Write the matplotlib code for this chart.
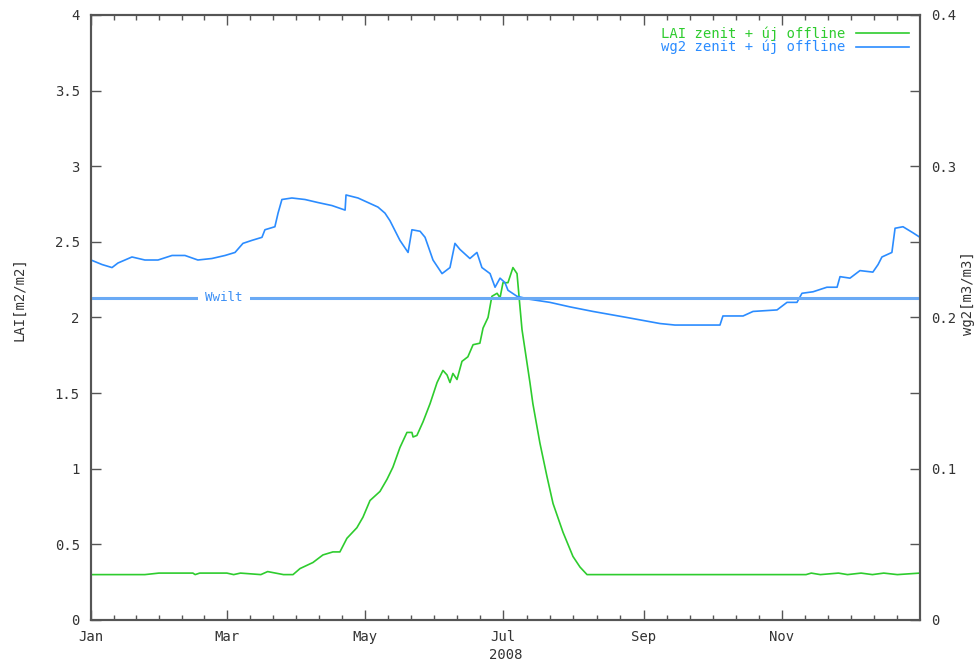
import numpy as np
import matplotlib.pyplot as plt

# day of year 2008 (0 = 1 Jan)
lai_day = [0, 23.8, 30, 45, 46, 48, 60, 63, 66, 75, 78, 85, 89.2, 92.3, 98.0, 102.4, 106.8,
           109.9, 113.0, 117.4, 120.1, 123.2, 127.6, 130.7, 133.3, 136.4, 139.5, 141.7,
           142.2, 143.9, 146.6, 149.7, 152.8, 155.4, 157.2, 158.5, 159.8, 161.6, 163.8,
           166.4, 168.7, 171.7, 173.1, 175.3, 177.0, 179.3, 180.6, 181.9, 184.1, 186.3,
           188.1, 189.4, 190.3, 191.6, 193.8, 195.1, 198.2, 201.3, 204.0, 208.4, 212.8,
           215.9, 219.0, 315.7, 318, 322, 330, 334, 340, 345, 350, 356, 366]
lai_val = [0.30, 0.30, 0.31, 0.31, 0.30, 0.31, 0.31, 0.30, 0.31, 0.30, 0.32, 0.30, 0.30,
           0.34, 0.38, 0.43, 0.45, 0.45, 0.54, 0.61, 0.68, 0.79, 0.85, 0.93, 1.01, 1.14,
           1.24, 1.24, 1.21, 1.22, 1.31, 1.43, 1.57, 1.65, 1.62, 1.57, 1.63, 1.59, 1.71,
           1.74, 1.82, 1.83, 1.93, 2.00, 2.14, 2.16, 2.13, 2.23, 2.23, 2.33, 2.29, 2.07,
           1.92, 1.79, 1.57, 1.43, 1.17, 0.95, 0.77, 0.58, 0.42, 0.35, 0.30, 0.30, 0.31,
           0.30, 0.31, 0.30, 0.31, 0.30, 0.31, 0.30, 0.31]

wg2_day = [0, 4.9, 9.3, 11.9, 18.1, 23.8, 29.6, 35.8, 41.5, 47.2, 53.4, 59.2, 63.6, 67.1,
           71.1, 75.5, 76.8, 81.2, 82.6, 84.3, 88.7, 94.5, 100.2, 106.4, 112.2, 112.6,
           117.9, 122.3, 126.7, 129.8, 132.0, 136.4, 140.0, 141.7, 145.3, 147.5, 151.0,
           155.0, 158.5, 160.7, 162.9, 167.3, 170.4, 172.6, 176.2, 178.4, 180.6, 182.8,
           184.1, 188.1, 193.8, 202.6, 211.5, 221.6, 236.6, 251.2, 257.8, 277.7, 279.0,
           287.9, 292.3, 302.9, 307.3, 311.7, 313.9, 318.8, 324.9, 329.4, 330.7, 335.1,
           339.5, 345.2, 347.5, 349.2, 353.6, 355.0, 358.5, 362.9, 366]
wg2_val = [0.238, 0.235, 0.233, 0.236, 0.240, 0.238, 0.238, 0.241, 0.241, 0.238, 0.239,
           0.241, 0.243, 0.249, 0.251, 0.253, 0.258, 0.260, 0.269, 0.278, 0.279, 0.278,
           0.276, 0.274, 0.271, 0.281, 0.279, 0.276, 0.273, 0.269, 0.264, 0.251, 0.243,
           0.258, 0.257, 0.253, 0.238, 0.229, 0.233, 0.249, 0.245, 0.239, 0.243, 0.233,
           0.229, 0.220, 0.226, 0.223, 0.218, 0.214, 0.212, 0.210, 0.207, 0.204, 0.200,
           0.196, 0.195, 0.195, 0.201, 0.201, 0.204, 0.205, 0.210, 0.210, 0.216, 0.217,
           0.220, 0.220, 0.227, 0.226, 0.231, 0.230, 0.235, 0.240, 0.243, 0.259, 0.260,
           0.256, 0.253]

wwilt = 0.213
month_pos = [0, 60, 121, 182, 244, 305]
month_lab = ['Jan', 'Mar', 'May', 'Jul', 'Sep', 'Nov']

plt.rcParams['font.family'] = ['DejaVu Sans Mono']
plt.rcParams['font.size'] = 10
txt = '#333333'
green = '#2ecc2e'
blue = '#2b8cff'

fig = plt.figure(figsize=(9.76, 6.66), dpi=100)
ax = fig.add_axes([0.0932, 0.0691, 0.8494, 0.9084])
ax2 = ax.twinx()

ax.plot(lai_day, lai_val, color=green, lw=1.2, label='LAI zenit + új offline')
ax2.plot(wg2_day, wg2_val, color=blue, lw=1.2, label='wg2 zenit + új offline')
ax2.axhline(wwilt, color='#6aaaf5', lw=2.2)
ax2.text(58.7, wwilt, 'Wwilt', color='#3a8ef5', ha='center', va='center', fontsize=9,
         bbox=dict(facecolor='white', edgecolor='none', pad=5))

ax.set_xlim(0, 366)
ax.set_ylim(0, 4)
ax2.set_ylim(0, 0.4)

ax.set_xticks(month_pos)
ax.set_xticklabels(month_lab)
edges = month_pos + [366]
minor = np.concatenate([np.linspace(a, b, 7)[1:-1] for a, b in zip(edges[:-1], edges[1:])])
ax.set_xticks(minor, minor=True)
ax.set_yticks(np.arange(0, 4.01, 0.5))
ax.set_yticklabels(['0', '0.5', '1', '1.5', '2', '2.5', '3', '3.5', '4'])
ax2.set_yticks(np.arange(0, 0.401, 0.1))
ax2.set_yticklabels(['0', '0.1', '0.2', '0.3', '0.4'])
ax2.set_yticks(np.arange(0.05, 0.4, 0.1), minor=True)

ax.tick_params(axis='x', which='major', direction='in', length=7, width=1, top=True,
               pad=7, colors='#555555', labelcolor=txt)
ax.tick_params(axis='x', which='minor', direction='in', length=3.5, width=1, top=True,
               colors='#555555')
ax.tick_params(axis='y', direction='in', length=7, width=1, pad=8, colors='#555555',
               labelcolor=txt)
ax2.tick_params(axis='y', which='both', direction='in', length=7, width=1, pad=8,
                colors='#555555', labelcolor=txt)

for a in (ax, ax2):
    for s in a.spines.values():
        s.set_color('#555555')
        s.set_linewidth(1.5)

ax.set_xlabel('2008', color=txt, labelpad=3)
ax.set_ylabel('LAI[m2/m2]', color=txt)
ax.yaxis.set_label_coords(-0.078, 0.53)
ax2.set_ylabel('wg2[m3/m3]', color=txt, rotation=90)
ax2.yaxis.set_label_coords(1.049, 0.54)

h1, l1 = ax.get_legend_handles_labels()
h2, l2 = ax2.get_legend_handles_labels()
ax2.legend(h1 + h2, l1 + l2, loc='upper right', frameon=False, markerfirst=False,
           labelcolor='linecolor', handlelength=3.8, borderaxespad=0.4,
           labelspacing=-0.05, fontsize=10)

fig.savefig('out.png', dpi=100)
